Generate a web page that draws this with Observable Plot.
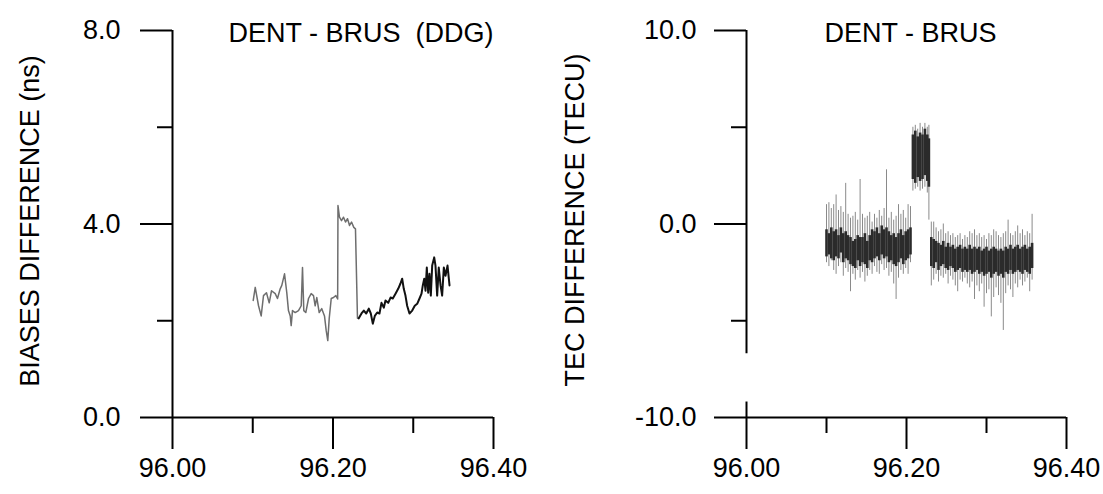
<!DOCTYPE html>
<html><head><meta charset="utf-8">
<script src="https://cdn.jsdelivr.net/npm/d3@7"></script>
<script src="https://cdn.jsdelivr.net/npm/@observablehq/plot@0.6"></script>
<style>
html,body{margin:0;padding:0;background:#fff;}
#wrap{display:flex;width:1103px;height:494px;overflow:hidden;}
#wrap svg{display:block;}
</style></head><body><div id="wrap"></div>
<script>
// ---------- Left panel: DENT - BRUS (DDG), biases difference (ns) ----------
const biasTitle = "DENT - BRUS  (DDG)";
const biasYLabel = "BIASES DIFFERENCE (ns)";
const biasXTicksMajor = [96.0, 96.2, 96.4];
const biasXTicksMinor = [96.1, 96.3];
const biasYTicksMajor = [0, 4, 8];
const biasYTicksMinor = [2, 6];

const biasGrayTime = [96.1006, 96.1031, 96.1072, 96.1105, 96.1134, 96.1171, 96.1205, 96.1234, 96.1280, 96.1308,
  96.1342, 96.1362, 96.1396, 96.1424, 96.1445, 96.1467, 96.1479, 96.1495, 96.1529, 96.1570,
  96.1604, 96.1620, 96.1636, 96.1661, 96.1695, 96.1728, 96.1757, 96.1778, 96.1798, 96.1828,
  96.1860, 96.1894, 96.1915, 96.1935, 96.1953, 96.1978, 96.2006, 96.2035, 96.2058, 96.2062,
  96.2081, 96.2106, 96.2131, 96.2156, 96.2181, 96.2206, 96.2231, 96.2259, 96.2280, 96.2293, 96.2305];
const biasGrayValue = [2.42, 2.69, 2.31, 2.10, 2.52, 2.58, 2.37, 2.62, 2.56, 2.46,
  2.66, 2.73, 2.97, 2.58, 2.21, 2.10, 1.90, 2.21, 2.17, 2.21,
  2.31, 3.10, 2.21, 2.17, 2.46, 2.56, 2.52, 2.31, 2.48, 2.17,
  2.25, 2.10, 1.80, 1.59, 2.05, 2.46, 2.48, 2.52, 2.45, 4.38,
  4.14, 4.07, 4.14, 4.04, 4.11, 3.97, 4.04, 3.93, 3.90, 2.93, 2.05];

const biasBlackTime = [96.2321, 96.2355, 96.2384, 96.2414, 96.2446, 96.2471, 96.2496, 96.2521, 96.2551, 96.2579,
  96.2604, 96.2633, 96.2654, 96.2688, 96.2717, 96.2745, 96.2779, 96.2812, 96.2841, 96.2862,
  96.2882, 96.2903, 96.2924, 96.2953, 96.2987, 96.3019, 96.3049, 96.3078, 96.3103, 96.3119,
  96.3137, 96.3153, 96.3169, 96.3186, 96.3202, 96.3219, 96.3236, 96.3261, 96.3277, 96.3298,
  96.3318, 96.3340, 96.3360, 96.3381, 96.3402, 96.3427, 96.3452];
const biasBlackValue = [2.05, 2.15, 2.21, 2.15, 2.25, 2.15, 1.94, 2.10, 2.17, 2.15,
  2.37, 2.27, 2.42, 2.37, 2.48, 2.46, 2.56, 2.66, 2.77, 2.87,
  2.66, 2.52, 2.31, 2.15, 2.21, 2.31, 2.35, 2.46, 2.56, 2.73,
  2.87, 2.62, 3.10, 2.58, 2.97, 2.52, 3.14, 3.31, 3.14, 2.52,
  3.10, 2.73, 2.52, 3.10, 2.93, 3.14, 2.73];

// ---------- Right panel: DENT - BRUS, TEC difference (TECU) ----------
const tecTitle = "DENT - BRUS";
const tecYLabel = "TEC DIFFERENCE (TECU)";
const tecYTicksMajor = [-10, 0, 10];
const tecYTicksMinor = [-5, 5];
const tecAxisEnd = -6.7;     // the scanned y axis line stops here
const tecAxisTickTop = -9.2; // 96.00 tick pokes above the x axis

const tecTime = [
  96.100, 96.103, 96.106, 96.109, 96.112, 96.115, 96.118, 96.121, 96.124, 96.127,
  96.130, 96.133, 96.136, 96.139, 96.142, 96.145, 96.148, 96.151, 96.154, 96.157,
  96.160, 96.163, 96.166, 96.169, 96.172, 96.175, 96.178, 96.181, 96.184, 96.187,
  96.190, 96.193, 96.196, 96.199, 96.202, 96.205,
  96.208, 96.211, 96.214, 96.217, 96.220, 96.223, 96.226, 96.228,
  96.231, 96.234, 96.237, 96.240, 96.243, 96.246, 96.249, 96.252, 96.255, 96.258,
  96.261, 96.264, 96.267, 96.270, 96.273, 96.276, 96.279, 96.282, 96.285, 96.288,
  96.291, 96.294, 96.297, 96.300, 96.303, 96.306, 96.309, 96.312, 96.315, 96.318,
  96.321, 96.324, 96.327, 96.330, 96.333, 96.336, 96.339, 96.342, 96.345, 96.348,
  96.351, 96.354, 96.357];
const tecOuterLo = [
  -2.0, -2.2, -1.9, -2.4, -2.6, -2.2, -2.0, -2.7, -2.3, -2.5,
  -3.5, -2.6, -2.9, -2.4, -2.8, -2.5, -3.0, -2.7, -2.4, -2.6,
  -2.2, -2.5, -2.6, -2.1, -2.4, -2.3, -2.7, -2.5, -3.1, -3.9,
  -2.8, -2.4, -2.6, -2.3, -2.6, -2.0,
  1.7, 1.8, 1.9, 1.7, 1.8, 1.9, 1.6, 0.2,
  -3.2, -2.9, -2.6, -3.0, -2.7, -2.8, -2.6, -3.1, -2.7, -2.9,
  -3.2, -3.5, -2.9, -3.0, -2.8, -3.1, -3.3, -3.0, -3.9, -3.2,
  -3.5, -3.1, -4.3, -3.6, -3.4, -4.8, -3.8, -3.3, -3.7, -4.1,
  -5.5, -3.6, -3.2, -3.4, -3.8, -3.1, -3.3, -2.9, -3.2, -3.0,
  -2.8, -3.5, -2.9];
const tecCoreLo = [
  -1.7, -1.6, -1.8, -1.9, -1.7, -1.8, -1.5, -2.0, -1.8, -1.9,
  -2.1, -2.2, -2.3, -1.9, -2.2, -2.0, -2.1, -2.3, -1.9, -2.0,
  -1.8, -1.7, -1.9, -1.6, -1.8, -1.7, -2.0, -1.9, -2.1, -2.2,
  -2.0, -1.8, -2.1, -1.9, -1.8, -1.6,
  2.3, 2.1, 2.4, 2.2, 2.3, 2.5, 2.2, 1.9,
  -2.2, -2.3, -2.0, -2.4, -2.2, -2.1, -2.3, -2.4, -2.2, -2.3,
  -2.5, -2.4, -2.3, -2.5, -2.4, -2.5, -2.4, -2.6, -2.5, -2.4,
  -2.6, -2.5, -2.7, -2.6, -2.5, -2.8, -2.6, -2.5, -2.7, -2.6,
  -2.8, -2.5, -2.6, -2.4, -2.6, -2.5, -2.4, -2.5, -2.6, -2.4,
  -2.5, -2.6, -2.3];
const tecCoreHi = [
  -0.3, -0.5, -0.2, -0.4, -0.3, -0.6, -0.2, -0.5, -0.4, -0.6,
  -0.7, -0.9, -0.8, -0.6, -0.7, -0.7, -0.5, -0.9, -0.6, -0.3,
  -0.4, -0.2, -0.5, -0.1, -0.3, -0.2, -0.4, -0.6, -0.5, -0.7,
  -0.5, -0.3, -0.6, -0.4, -0.3, -0.2,
  4.6, 4.8, 4.5, 4.7, 4.6, 4.9, 4.6, 4.4,
  -0.7, -0.8, -0.9, -1.0, -1.1, -0.9, -1.2, -1.0, -1.2, -1.1,
  -1.3, -1.2, -1.1, -1.3, -1.2, -1.3, -1.1, -1.3, -1.2, -1.3,
  -1.2, -1.4, -1.3, -1.2, -1.4, -1.3, -1.2, -1.3, -1.4, -1.3,
  -1.4, -1.2, -1.3, -1.1, -1.3, -1.2, -1.1, -1.3, -1.2, -1.1,
  -1.3, -1.2, -1.0];
const tecOuterHi = [
  1.0, 1.1, 0.8, 1.0, 1.5, 0.7, 0.9, 0.6, 2.1, 0.5,
  0.3, 0.4, 0.6, 0.2, 2.3, 0.5, 0.3, 0.4, 0.6, 0.1,
  0.5, 0.3, 0.7, 0.4, 0.8, 2.8, 0.3, 0.6, 0.2, 0.4,
  1.0, 0.5, 0.7, 0.3, 1.0, 0.9,
  5.0, 5.1, 4.9, 5.2, 5.0, 5.2, 5.0, 5.1,
  0.1, 0.1, -0.2, -0.4, -0.3, 0.0, -0.5, -0.4, -0.6, -0.5,
  -0.7, -0.6, -0.5, -0.8, -0.6, -0.7, -0.4, -0.5, -0.3, -0.6,
  -0.5, -0.7, -0.6, -0.8, -0.5, -0.6, -0.3, -0.4, -0.6, -0.7,
  -0.5, -0.4, 0.2, -0.5, -0.6, -0.4, -0.1, -0.5, -0.3, -0.6,
  -0.4, -0.5, 0.5];

const xTicksMajor = [96.0, 96.2, 96.4];
const xTicksMinor = [96.1, 96.3];

// ---------- drawing ----------
const FONT = "'Liberation Sans', Arial, Helvetica, sans-serif";
const FS = 27;
const H = 494;

function commonAxes(yMajor, yMinor, yFmt, yPad) {
  return [
    Plot.axisX({ticks: xTicksMajor, tickSize: 32, tickPadding: 8, tickFormat: d => d.toFixed(2),
      fontSize: FS, strokeWidth: 2, label: null}),
    Plot.axisX({ticks: xTicksMinor, tickSize: 16, tickFormat: () => "", strokeWidth: 2, label: null}),
    Plot.axisY({ticks: yMajor, tickSize: 32, tickPadding: yPad, tickFormat: yFmt,
      fontSize: FS, strokeWidth: 2, label: null}),
    Plot.axisY({ticks: yMinor, tickSize: 15, tickFormat: () => "", strokeWidth: 2, label: null})
  ];
}

const left = Plot.plot({
  width: 551, height: H,
  marginLeft: 172, marginRight: 58, marginTop: 30, marginBottom: 77,
  style: {fontFamily: FONT, fontSize: FS + "px", background: "#fff", color: "#000", overflow: "visible"},
  x: {domain: [96.0, 96.4], label: null},
  y: {domain: [0, 8], label: null},
  marks: [
    ...commonAxes(biasYTicksMajor, biasYTicksMinor, d => d.toFixed(1), 20),
    Plot.ruleX([96.0], {y1: 0, y2: 8, strokeWidth: 2}),
    Plot.ruleY([0], {x1: 96.0, x2: 96.4, strokeWidth: 2}),
    Plot.line(biasGrayValue, {x: biasGrayTime, y: biasGrayValue, stroke: "#6e6e6e", strokeWidth: 1.5}),
    Plot.line(biasBlackValue, {x: biasBlackTime, y: biasBlackValue, stroke: "#111", strokeWidth: 2}),
    Plot.text([biasTitle], {frameAnchor: "top", dx: 28, dy: 3, lineAnchor: "middle", fontSize: FS, fill: "#000"}),
    Plot.text([biasYLabel], {frameAnchor: "left", dx: -142, dy: -3, rotate: -90, textAnchor: "middle",
      lineAnchor: "middle", fontSize: FS, fill: "#000"})
  ]
});

const right = Plot.plot({
  width: 552, height: H,
  marginLeft: 195, marginRight: 37, marginTop: 30, marginBottom: 77,
  style: {fontFamily: FONT, fontSize: FS + "px", background: "#fff", color: "#000", overflow: "visible"},
  x: {domain: [96.0, 96.4], label: null},
  y: {domain: [-10, 10], label: null},
  marks: [
    ...commonAxes(tecYTicksMajor, tecYTicksMinor, d => d.toFixed(1), 18),
    Plot.ruleX([96.0], {y1: tecAxisEnd, y2: 10, strokeWidth: 2}),
    Plot.ruleX([96.0], {y1: -10, y2: tecAxisTickTop, strokeWidth: 2}),
    Plot.ruleY([-10], {x1: 96.0, x2: 96.4, strokeWidth: 2}),
    Plot.ruleX(tecTime, {x: tecTime, y1: tecOuterLo, y2: tecOuterHi, stroke: "#8a8a8a", strokeWidth: 1}),
    Plot.ruleX(tecTime, {x: tecTime, y1: tecCoreLo, y2: tecCoreHi, stroke: "#2b2b2b", strokeWidth: 2.6}),
    Plot.text([tecTitle], {frameAnchor: "top", dx: 4, dy: 3, lineAnchor: "middle", fontSize: FS, fill: "#000"}),
    Plot.text([tecYLabel], {frameAnchor: "left", dx: -171, dy: -4, rotate: -90, textAnchor: "middle",
      lineAnchor: "middle", fontSize: FS, fill: "#000"})
  ]
});

const wrap = document.getElementById("wrap");
wrap.appendChild(left);
wrap.appendChild(right);
</script>
</body></html>
